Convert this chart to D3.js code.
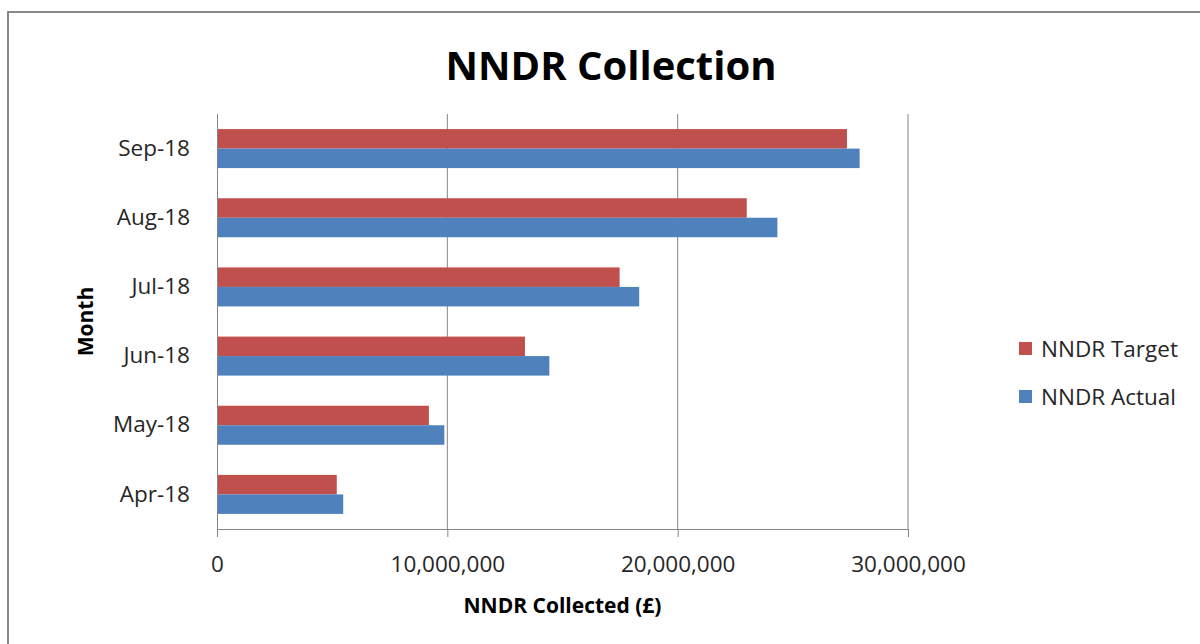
<!DOCTYPE html>
<html>
<head>
<meta charset="utf-8">
<script src="https://cdn.jsdelivr.net/npm/d3@7"></script>
<style>
  html, body { margin: 0; padding: 0; background: #fff; }
  svg { display: block; }
  text { font-family: "Open Sans", sans-serif; fill: #262626; }
</style>
</head>
<body>
<svg id="chart" width="1200" height="644"></svg>
<script>
const months = ["Apr-18", "May-18", "Jun-18", "Jul-18", "Aug-18", "Sep-18"];
const seriesNames = ["NNDR Target", "NNDR Actual"];
const nndrTarget = [5200000, 9200000, 13370000, 17480000, 23000000, 27350000];
const nndrActual = [5480000, 9870000, 14430000, 18330000, 24330000, 27900000];
const xTicks = [0, 10000000, 20000000, 30000000];
const colors = ["#C0504D", "#4F81BD"];

const svg = d3.select("#chart");
const W = 1200, H = 644;
svg.append("rect").attr("x", 8).attr("y", 12).attr("width", W).attr("height", H)
  .attr("fill", "#fff").attr("stroke", "#888").attr("stroke-width", 2);

const plot = { left: 217, right: 908, top: 114, bottom: 529 };
const x = d3.scaleLinear().domain([0, 30000000]).range([plot.left, plot.right]);
const y = d3.scaleBand().domain(months).range([plot.bottom, plot.top])
  .paddingInner(0.436).paddingOuter(0.218);
const ySub = d3.scaleBand().domain(seriesNames).range([0, y.bandwidth()]);

// gridlines
svg.append("g").selectAll("line").data(xTicks.slice(1)).join("line")
  .attr("x1", d => x(d)).attr("x2", d => x(d))
  .attr("y1", plot.top).attr("y2", plot.bottom)
  .attr("stroke", "#868686").attr("stroke-width", 1);

// bars
const data = months.map((m, i) => ({ m, vals: [nndrTarget[i], nndrActual[i]] }));
const groups = svg.append("g").selectAll("g").data(data).join("g")
  .attr("transform", d => `translate(0,${y(d.m)})`);
groups.selectAll("rect").data(d => d.vals.map((v, j) => ({ v, s: seriesNames[j], c: colors[j] })))
  .join("rect")
  .attr("x", x(0)).attr("y", d => ySub(d.s))
  .attr("width", d => x(d.v) - x(0)).attr("height", ySub.bandwidth())
  .attr("fill", d => d.c);

// x axis
const xAxis = d3.axisBottom(x).tickValues(xTicks).tickSize(8).tickPadding(19)
  .tickFormat(d3.format(","));
const gx = svg.append("g").attr("transform", `translate(0,${plot.bottom})`).call(xAxis);
gx.select(".domain").attr("stroke", "#868686");
gx.selectAll(".tick line").attr("stroke", "#868686");
gx.selectAll(".tick text").attr("font-size", "22.5px").attr("fill", "#262626")
  .attr("font-family", "Open Sans, sans-serif");

// y axis
const yAxis = d3.axisLeft(y).tickSize(0).tickPadding(27);
const gy = svg.append("g").attr("transform", `translate(${plot.left},0)`).call(yAxis);
gy.select(".domain").attr("stroke", "#868686").attr("d", `M0.5,${plot.top}V${plot.bottom}`);
gy.selectAll(".tick text").attr("font-size", "22.5px").attr("fill", "#262626")
  .attr("font-family", "Open Sans, sans-serif");

// title
svg.append("text").attr("x", 611).attr("y", 80).attr("text-anchor", "middle")
  .attr("font-size", "40px").attr("font-weight", "bold").style("fill", "#000")
  .text("NNDR Collection");

// axis titles
svg.append("text").attr("x", (plot.left + plot.right) / 2).attr("y", 613)
  .attr("text-anchor", "middle").attr("font-size", "21px").attr("font-weight", "bold")
  .style("fill", "#000").text("NNDR Collected (£)");
svg.append("text").attr("transform", `translate(93,${(plot.top + plot.bottom) / 2}) rotate(-90)`)
  .attr("text-anchor", "middle").attr("font-size", "21px").attr("font-weight", "bold")
  .style("fill", "#000").text("Month");

// legend
const legendY = [349, 397];
const lg = svg.append("g").selectAll("g").data(seriesNames).join("g")
  .attr("transform", (d, i) => `translate(1019,${legendY[i]})`);
lg.append("rect").attr("x", 0).attr("y", -7).attr("width", 13).attr("height", 13)
  .attr("fill", (d, i) => colors[i]);
lg.append("text").attr("x", 22).attr("y", 0).attr("dy", "0.35em")
  .attr("font-size", "22.5px").text(d => d);
</script>
</body>
</html>
